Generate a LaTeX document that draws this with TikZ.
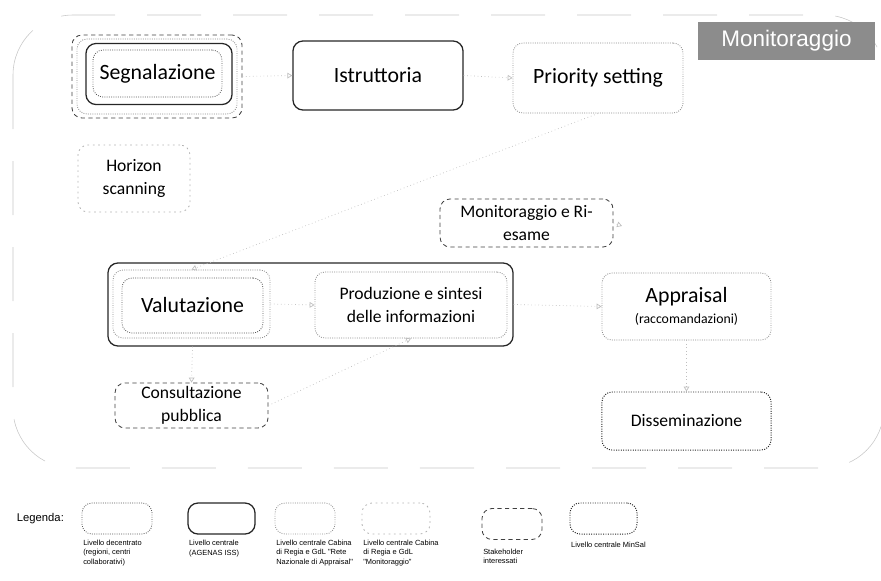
\documentclass[tikz,border=0pt]{standalone}
\usepackage{fontspec}
\setmainfont{Carlito}
\newfontfamily\arialf{Liberation Sans}
\usetikzlibrary{arrows.meta,positioning}
\newcommand\lblbig{\fontsize{15.5}{19}\selectfont}
\newcommand\lblmid{\fontsize{12.5}{16.2}\selectfont}
\newcommand\lblsmall{\fontsize{9.8}{12}\selectfont}
\newcommand\lgfont{\arialf\fontsize{5.3}{6.5}\selectfont}
\tikzset{
  box/.style={rectangle,rounded corners=2.5mm,minimum width=4.25cm,minimum height=1.75cm,align=center,inner sep=0pt,font=\lblbig},
  agenas/.style={box,draw=black!85,line width=0.9pt},
  decentr/.style={box,draw=black!65,densely dotted,line width=0.6pt},
  rete/.style={box,draw=black!45,densely dotted,line width=0.6pt},
  monit/.style={box,draw=black!30,dash pattern=on 1.2pt off 2.6pt,line width=0.6pt},
  stake/.style={box,draw=black!75,dash pattern=on 3pt off 2.4pt,line width=0.6pt},
  minsal/.style={box,draw=black!85,densely dotted,line width=0.7pt},
  link/.style={draw=black!25,dotted,line width=0.5pt,-{Triangle[open,length=3.5pt,width=4pt]}},
  frame/.style={draw=black!22,line width=0.4pt,dash pattern=on 1.35cm off 0.8cm,rounded corners=1.5cm},
  tag/.style={fill=black!45,text=white,font=\arialf\fontsize{16}{18}\selectfont,minimum width=4.425cm,minimum height=0.95cm,inner sep=0pt},
  lgbox/.style={minimum width=1.7cm,minimum height=0.775cm,rounded corners=1.5mm},
  lgtext/.style={anchor=north west,align=left,inner sep=0pt,font=\lgfont}
}

\begin{document}
\begin{tikzpicture}[x=0.025cm,y=-0.025cm]
  \useasboundingbox (0,0) rectangle (881,580);
  \draw[frame] (13,15) rectangle (884,468);
  \node[tag] (tagmon) at (786.5,41) {Monitoraggio};

  \node[stake,minimum width=4.25cm,minimum height=2.075cm] (segout) at (157,76.5) {};
  \node[rete,minimum width=4cm,minimum height=1.875cm] (segdot) at (157,76.5) {};
  \node[agenas,minimum width=3.65cm,minimum height=1.525cm] (segmid) at (159,74) {};
  \node[decentr,minimum width=3.225cm,minimum height=1.175cm] (segn) at (157.5,73.5) {Segnalazione};
  \node[agenas,minimum height=1.725cm] (istr) at (378,75.5) {Istruttoria};
  \node[rete] (prio) at (598,78) {Priority setting};

  \node[monit,minimum width=2.8cm,minimum height=1.675cm,font=\lblmid] (horiz) at (134,178.5) {Horizon\\scanning};
  \node[stake,minimum width=4.325cm,minimum height=1.2cm,font=\lblmid] (monrie) at (526.5,223) {Monitoraggio e Ri-\\esame};

  \node[agenas,minimum width=10.125cm,minimum height=2.075cm] (grp) at (310.5,304.5) {};
  \node[rete,minimum width=3.925cm,minimum height=1.7cm] (valout) at (191.5,304) {};
  \node[decentr,minimum width=3.525cm,minimum height=1.375cm] (valut) at (192.5,305.5) {Valutazione};
  \node[rete,minimum width=4.8cm,minimum height=1.65cm,font=\lblmid] (prod) at (411,305) {Produzione e sintesi\\delle informazioni};
  \node[rete,minimum width=4.225cm,minimum height=1.675cm] (appr) at (686.5,306.5) {Appraisal\\[-4pt]{\lblsmall(raccomandazioni)}};
  \node[minsal,minimum width=4.225cm,minimum height=1.45cm,font=\lblmid] (diss) at (686.5,421) {Disseminazione};
  \node[stake,minimum width=3.825cm,minimum height=1.125cm,font=\lblmid] (cons) at (191.5,405.5) {Consultazione\\pubblica};

  \coordinate (monend) at (622,226);

  \draw[link] (segout.east) -- (istr.west);
  \draw[link] (istr.east) -- (prio.west);
  \draw[link] (prio.south) -- (valout.north);
  \draw[link] (valout.east) -- (prod.west);
  \draw[link] (grp.south -| valut.south) -- (cons.north);
  \draw[link] (cons.east) -- (prod.south);
  \draw[link] (grp.east) -- (appr.west);
  \draw[link] (appr.south) -- (diss.north);
  \draw[link] (monrie.east) -- (monend);

  \node[anchor=west,font=\arialf\fontsize{8}{9}\selectfont] (legenda) at (12,519) {Legenda:};
  \node[lgbox,decentr,minimum width=1.75cm,minimum height=0.775cm] (lg1) at (117,518.5) {};
  \node[lgbox,agenas,minimum width=1.675cm,minimum height=0.775cm] (lg2) at (221.5,518.5) {};
  \node[lgbox,rete,minimum width=1.5cm,minimum height=0.775cm] (lg3) at (305,518.5) {};
  \node[lgbox,monit,minimum width=1.7cm,minimum height=0.775cm] (lg4) at (396,518.5) {};
  \node[lgbox,stake,minimum width=1.5cm,minimum height=0.775cm] (lg5) at (512,524) {};
  \node[lgbox,minsal,minimum width=1.675cm,minimum height=0.775cm] (lg6) at (603.5,518.5) {};

  \node[lgtext] (lt1) at ([xshift=1pt,yshift=-4pt]lg1.south west) {Livello decentrato\\(regioni, centri\\collaborativi)};
  \node[lgtext] (lt2) at ([xshift=1pt,yshift=-4pt]lg2.south west) {Livello centrale\\(AGENAS ISS)};
  \node[lgtext] (lt3) at ([xshift=1pt,yshift=-4pt]lg3.south west) {Livello centrale Cabina\\di Regia e GdL "Rete\\Nazionale di Appraisal"};
  \node[lgtext] (lt4) at ([xshift=1pt,yshift=-4pt]lg4.south west) {Livello centrale Cabina\\di Regia e GdL\\"Monitoraggio"};
  \node[lgtext] (lt5) at ([xshift=1pt,yshift=-6pt]lg5.south west) {Stakeholder\\interessati};
  \node[lgtext] (lt6) at ([xshift=1pt,yshift=-5pt]lg6.south west) {Livello centrale MinSal};
\end{tikzpicture}
\end{document}
